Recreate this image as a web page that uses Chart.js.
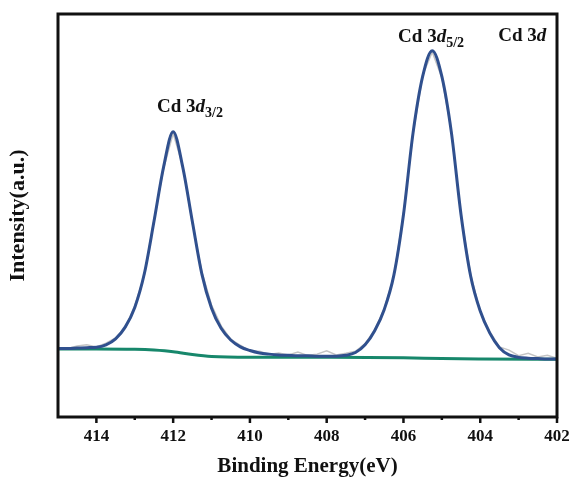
<!DOCTYPE html>
<html>
<head>
<meta charset="utf-8">
<script src="https://cdn.jsdelivr.net/npm/chart.js@4.4.1/dist/chart.umd.min.js"></script>
<style>
  body { margin: 0; background: #fff; }
  #wrap { width: 572px; height: 483px; }
</style>
</head>
<body>
<div id="wrap"><canvas id="xpsChart"></canvas></div>
<script>
// Cd 3d core level, binding energy in eV (scan runs high -> low)
const energy = [
    415, 414.75, 414.5, 414.25, 414, 413.75, 413.5, 413.25, 413, 412.75, 412.5, 412.25, 412,
    411.75, 411.5, 411.25, 411, 410.75, 410.5, 410.25, 410, 409.75, 409.5, 409.25, 409,
    408.75, 408.5, 408.25, 408, 407.75, 407.5, 407.25, 407, 406.75, 406.5, 406.25, 406,
    405.75, 405.5, 405.25, 405, 404.75, 404.5, 404.25, 404, 403.75, 403.5, 403.25, 403,
    402.75, 402.5, 402.25, 402
];

// fitted envelope
const envelope = [
    17.0, 17.0, 17.1, 17.2, 17.3, 17.9, 19.4, 22.3, 27.2, 35.6, 48.5, 62.0, 70.8,
    62.0, 48.5, 35.4, 27.0, 22.0, 19.1, 17.4, 16.5, 15.9, 15.6, 15.4, 15.3,
    15.2, 15.2, 15.1, 15.1, 15.1, 15.3, 16.0, 17.9, 21.4, 26.7, 35.2, 50.2,
    70.5, 84.5, 90.9, 84.5, 70.5, 50.2, 35.0, 26.3, 20.8, 17.2, 15.4, 14.8,
    14.6, 14.5, 14.4, 14.4
];

// measured counts
const raw = [
    17.2, 17.0, 17.6, 17.9, 17.4, 18.3, 19.6, 22.0, 27.6, 35.2, 48.9, 61.6, 70.4,
    62.3, 48.2, 35.9, 27.8, 22.6, 19.3, 17.8, 16.4, 16.3, 15.5, 15.9, 15.4,
    16.1, 15.3, 15.6, 16.4, 15.4, 15.8, 16.3, 18.2, 21.6, 26.9, 35.0, 50.4,
    70.2, 84.8, 90.6, 84.2, 70.8, 50.0, 35.4, 26.1, 21.2, 17.4, 16.6, 15.2,
    15.8, 14.9, 15.3, 14.6
];

// Shirley background
const bgEnergy = [415, 414, 413, 412.5, 412, 411.5, 411, 410, 408, 406, 405, 404, 402];
const background = [16.9, 16.9, 16.8, 16.6, 16.2, 15.5, 15.0, 14.8, 14.8, 14.7, 14.5, 14.4, 14.3];

const majorTicks = [414, 412, 410, 408, 406, 404, 402];

const serif = "'Liberation Serif', 'Times New Roman', serif";

function pts(xs, ys) {
    return xs.map((e, i) => ({ x: e, y: ys[i] }));
}

// "Cd 3d" with italic d and an optional subscript
function drawCdLabel(ctx, px, py, sub) {
    ctx.textBaseline = 'alphabetic';
    ctx.textAlign = 'left';
    ctx.fillStyle = '#111';
    ctx.font = `bold 19px ${serif}`;
    ctx.fillText('Cd 3', px, py);
    px += ctx.measureText('Cd 3').width;
    ctx.font = `italic bold 19px ${serif}`;
    ctx.fillText('d', px, py);
    px += ctx.measureText('d').width;
    if (sub) {
        ctx.font = `bold 14px ${serif}`;
        ctx.fillText(sub, px, py + 5);
    }
}

const xpsDecor = {
    id: 'xpsDecor',
    afterDraw(chart) {
        const { ctx, chartArea: a, scales: { x, y } } = chart;
        ctx.save();

        // frame
        ctx.strokeStyle = '#111';
        ctx.lineWidth = 3;
        ctx.strokeRect(a.left, a.top, a.right - a.left, a.bottom - a.top);

        // outward tick marks, long on even energies
        ctx.lineWidth = 2.5;
        for (let e = 402; e <= 414; e++) {
            const px = x.getPixelForValue(e);
            const len = majorTicks.includes(e) ? 6 : 3;
            ctx.beginPath();
            ctx.moveTo(px, a.bottom);
            ctx.lineTo(px, a.bottom + len);
            ctx.stroke();
        }

        // peak labels
        drawCdLabel(ctx, x.getPixelForValue(412.42), y.getPixelForValue(75.8), '3/2');
        drawCdLabel(ctx, x.getPixelForValue(406.14), y.getPixelForValue(93.1), '5/2');
        drawCdLabel(ctx, x.getPixelForValue(403.53), y.getPixelForValue(93.3), null);

        ctx.restore();
    }
};

new Chart(document.getElementById('xpsChart'), {
    type: 'line',
    data: {
        datasets: [
            {
                label: 'Envelope',
                data: pts(energy, envelope),
                borderColor: '#30508e',
                borderWidth: 3,
                pointRadius: 0,
                cubicInterpolationMode: 'monotone',
                fill: false
            },
            {
                label: 'Background',
                data: pts(bgEnergy, background),
                borderColor: '#17876b',
                borderWidth: 3,
                pointRadius: 0,
                cubicInterpolationMode: 'monotone',
                fill: false
            },
            {
                label: 'Raw',
                data: pts(energy, raw),
                borderColor: '#c4c4c4',
                borderWidth: 1.5,
                pointRadius: 0,
                tension: 0,
                fill: false
            }
        ]
    },
    options: {
        responsive: true,
        maintainAspectRatio: false,
        animation: false,
        layout: { padding: { top: 14, right: 15, left: 0, bottom: 0 } },
        plugins: {
            legend: { display: false },
            tooltip: { enabled: false }
        },
        scales: {
            x: {
                type: 'linear',
                reverse: true,
                min: 402,
                max: 415,
                afterFit: s => { s.height = 66; },
                afterBuildTicks: s => {
                    s.ticks = [];
                    for (let e = 402; e <= 415; e++) s.ticks.push({ value: e });
                },
                grid: { display: false, drawTicks: false },
                border: { display: false },
                ticks: {
                    autoSkip: false,
                    maxRotation: 0,
                    padding: 9,
                    color: '#111',
                    font: { family: serif, size: 17, weight: 'bold' },
                    callback: v => majorTicks.includes(v) ? String(v) : ''
                },
                title: {
                    display: true,
                    text: 'Binding Energy(eV)',
                    color: '#111',
                    font: { family: serif, size: 21, weight: 'bold' },
                    padding: { top: 0, bottom: 4 }
                }
            },
            y: {
                min: 0,
                max: 100,
                afterFit: s => { s.width = 58; },
                grid: { display: false },
                border: { display: false },
                ticks: { display: false },
                title: {
                    display: true,
                    text: 'Intensity(a.u.)',
                    color: '#111',
                    font: { family: serif, size: 22, weight: 'bold' },
                    padding: { top: 5, bottom: 0 }
                }
            }
        }
    },
    plugins: [xpsDecor]
});
</script>
</body>
</html>
